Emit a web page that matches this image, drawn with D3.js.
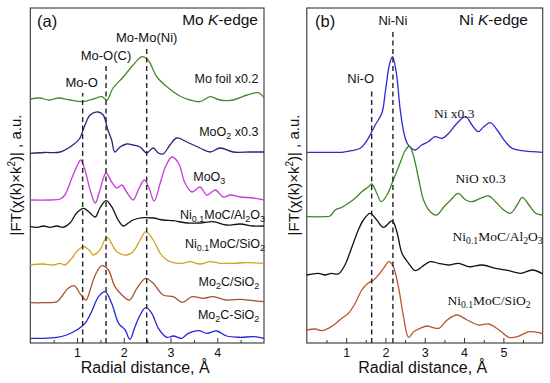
<!DOCTYPE html>
<html><head><meta charset="utf-8">
<script src="https://cdn.jsdelivr.net/npm/d3@7/dist/d3.min.js"></script>
<style>
body{margin:0;background:#fff;}
svg{display:block;font-family:Arial,"Liberation Sans",sans-serif;}
</style></head>
<body><svg id="c" width="550" height="383"></svg>
<script>
// ---------- DATA (x: radial distance Å, y: |FT| a.u. incl. vertical offset) ----------
const moFoil = [[0,244],[0.2,245],[0.4,243],[0.6,245],[0.85,243],[1.12,241.3],[1.35,244],[1.53,246.3],[1.64,243],[1.77,255],[1.99,266],[2.2,278],[2.39,286.3],[2.52,283],[2.71,266],[2.93,256],[3.2,247],[3.42,243],[3.63,241.3],[3.85,246.3],[4.06,243],[4.34,243],[4.64,248],[4.88,250.3],[5,245]];
const moO2 = [[0,189.7],[0.3,190.5],[0.64,191],[0.91,198],[1.05,204],[1.17,218],[1.28,228],[1.45,231],[1.56,228],[1.66,213],[1.74,203],[1.81,191],[1.92,196],[2.06,199],[2.2,198],[2.35,196],[2.49,190],[2.63,195],[2.74,190],[2.84,189],[2.99,198],[3.13,205],[3.35,201],[3.63,195],[3.85,191],[4.06,195],[4.34,191],[4.7,191],[5,191]];
const moO3 = [[0,143],[0.43,143],[0.64,144],[0.74,148],[0.89,165],[0.99,176],[1.08,183],[1.17,173],[1.28,153],[1.39,140],[1.49,153],[1.62,170],[1.74,161],[1.85,155],[1.96,158],[2.06,151],[2.2,143],[2.31,153],[2.44,163],[2.54,155],[2.65,142],[2.78,160],[2.89,176],[3.03,186],[3.17,180],[3.31,160],[3.46,151],[3.63,156],[3.78,148],[3.96,153],[4.13,146],[4.28,148],[4.49,146],[4.77,145],[5,143]];
const niMoCAlMo = [[0,116.3],[0.16,115.7],[0.28,117],[0.42,115.7],[0.57,117],[0.7,115.7],[0.85,120],[0.99,130],[1.14,134.7],[1.28,130],[1.39,126],[1.49,135],[1.62,142.3],[1.74,136.3],[1.88,123],[1.99,117],[2.09,119.7],[2.2,123],[2.41,125.3],[2.63,125],[2.84,123],[3.06,122.3],[3.35,120],[3.63,120],[3.91,121.3],[4.2,118],[4.49,119],[4.77,117],[5,117]];
const niMoCSiMo = [[0,78],[0.27,79],[0.49,78],[0.64,79.7],[0.74,78],[0.89,84.7],[0.99,91.3],[1.14,96.3],[1.28,92],[1.34,88],[1.49,93],[1.64,105.7],[1.85,91.3],[2.06,88],[2.2,91.3],[2.35,103],[2.47,111.3],[2.63,103],[2.78,89.7],[2.92,83],[3.06,80.3],[3.24,79.7],[3.42,81.3],[3.63,79],[3.85,81.3],[4.06,79.7],[4.34,79.7],[4.64,80.3],[5,79.7]];
const mo2cSi = [[0,40.3],[0.28,40.3],[0.57,41.3],[0.67,46.3],[0.81,54.7],[0.94,57.3],[1.06,49.7],[1.19,43],[1.28,53],[1.39,68],[1.53,77.3],[1.67,73],[1.81,56.3],[1.96,48],[2.12,43],[2.28,54.7],[2.47,64.7],[2.63,59.7],[2.84,48],[3.06,46.3],[3.26,40.7],[3.46,46.3],[3.7,44.7],[3.91,46.3],[4.2,43],[4.49,43.7],[4.77,42.3],[5,41.3]];
const mo2cSiB = [[0,4.7],[0.28,4.7],[0.57,5.7],[0.78,8],[0.99,13],[1.17,19.7],[1.31,31.3],[1.46,46.3],[1.6,51.3],[1.74,39.7],[1.89,19.7],[2.03,13],[2.13,3.7],[2.24,16.3],[2.35,28],[2.47,35.3],[2.6,29.7],[2.74,14.7],[2.92,5.7],[3.06,7],[3.24,4.7],[3.38,9.7],[3.6,12.3],[3.78,9.7],[3.99,12],[4.2,7],[4.49,5.7],[4.78,6.3],[5,4.7]];

const niFoil = [[0,190.7],[0.46,190.7],[0.89,190.7],[1.14,192.3],[1.36,194.7],[1.48,199.7],[1.61,208],[1.74,218],[1.91,230],[2.0,252],[2.1,278],[2.18,286.3],[2.27,272],[2.38,232],[2.47,210],[2.55,200],[2.65,195],[2.76,193],[2.92,198],[3.09,201.3],[3.26,206.3],[3.44,204.7],[3.61,209.7],[3.82,219.7],[4.04,226.3],[4.2,218],[4.36,211.3],[4.5,216.3],[4.67,220.3],[4.84,213],[5.05,201.3],[5.22,194.7],[5.48,192.3],[5.74,191.3],[6,190.7]];
const niO = [[0,126.3],[0.46,126.3],[0.59,127],[0.72,133],[0.89,135.7],[1.06,139.7],[1.23,144.7],[1.4,151.3],[1.57,156.3],[1.65,159],[1.78,149.7],[1.89,141.3],[2.04,148],[2.2,163],[2.37,179.7],[2.51,193],[2.61,197],[2.72,186.3],[2.85,163],[2.97,143],[3.14,131.3],[3.3,128],[3.49,136.3],[3.66,143],[3.85,149.7],[4.04,143],[4.2,141.3],[4.42,144.7],[4.63,147],[4.8,141.3],[5.01,133],[5.18,129.7],[5.35,138],[5.48,145.7],[5.65,138],[5.82,129.7],[6,128]];
const niMoCAlNi = [[0,68],[0.29,69.7],[0.46,68],[0.63,69.7],[0.8,69],[0.97,78],[1.09,89.7],[1.31,113],[1.44,123],[1.61,129.7],[1.78,123],[1.95,115.7],[2.17,122],[2.29,111.3],[2.42,89.7],[2.59,79.7],[2.76,72.3],[2.93,76.3],[3.14,81.3],[3.35,79.7],[3.61,78],[3.86,79.7],[4.12,76.3],[4.46,78],[4.8,74.7],[5.14,72.3],[5.44,69.7],[5.74,73],[6,69]];
const niMoCSiNi = [[0,13],[0.21,14],[0.38,12.3],[0.55,14.7],[0.72,19],[0.89,24.7],[1.06,29.7],[1.23,39.7],[1.4,53],[1.57,60.3],[1.7,63],[1.82,68],[1.95,74.7],[2.09,81.3],[2.2,76.3],[2.33,56.3],[2.46,26.3],[2.59,5.7],[2.72,11.3],[2.89,14.7],[3.06,17],[3.19,15.7],[3.36,14.7],[3.57,23],[3.82,28],[4.08,23],[4.37,18],[4.63,19],[4.89,13],[5.14,5.7],[5.4,7],[5.65,11.3],[5.91,10.3],[6,9]];

const ticksA = [1,2,3,4];
const ticksB = [1,2,3,4,5];
const dashA = [1.12,1.62,2.49];
const dashB = [1.65,2.19];
const dashLabelsA = ["Mo-O","Mo-O(C)","Mo-Mo(Ni)"];
const dashLabelsB = ["Ni-O","Ni-Ni"];
const xTitle = "Radial distance, Å";

// ---------- SCALES ----------
const svg = d3.select("#c");
const xA = d3.scaleLinear([0,5],[30.3,264]);
const xB = d3.scaleLinear([0,6],[306.8,542.7]);
const y = d3.scaleLinear([0,335],[343,8]);

function panel(x, ticks, minor){
  const g = svg.append("g");
  const [x0,x1] = x.range();
  const ax = d3.axisBottom(x).tickValues(ticks).tickSizeInner(-5).tickSizeOuter(0).tickPadding(5).tickFormat(d3.format("d"));
  const ag = g.append("g").attr("transform","translate(0,343)").call(ax);
  ag.select(".domain").remove();
  ag.selectAll("line").attr("stroke","#333");
  ag.selectAll("text").attr("font-size",12.5).attr("fill","#111").attr("font-family","Arial, 'Liberation Sans', sans-serif");
  const mg = g.append("g").attr("transform","translate(0,343)").call(d3.axisBottom(x).tickValues(minor).tickSizeInner(-3).tickSizeOuter(0).tickFormat(""));
  mg.select(".domain").remove();
  mg.selectAll("line").attr("stroke","#333");
  g.append("rect").attr("x",x0).attr("y",8).attr("width",x1-x0).attr("height",335)
    .attr("fill","none").attr("stroke","#333").attr("stroke-width",1.1);
  g.append("text").attr("x",(x0+x1)/2-2).attr("y",373).attr("text-anchor","middle")
    .attr("font-size",16).attr("fill","#111").text(xTitle);
  return g;
}
panel(xA, ticksA, [0.5,1.5,2.5,3.5,4.5]);
panel(xB, ticksB, [0.5,1.5,2.5,3.5,4.5,5.5]);

// y labels
function ylab(xpos){
  const t = svg.append("text").attr("transform",`translate(${xpos},175) rotate(-90)`)
    .attr("text-anchor","middle").attr("font-size",15).attr("fill","#111");
  t.append("tspan").text("|FT(χ(k)×k");
  t.append("tspan").attr("font-size",10).attr("dy",-6).text("2");
  t.append("tspan").attr("dy",6).text(")| , a.u.");
}
ylab(21); ylab(299);

// curves
const line = x => d3.line().x(d=>x(d[0])).y(d=>y(d[1])).curve(d3.curveCatmullRom.alpha(0.5));
const seriesA = [[moFoil,"#4a8a2c"],[moO2,"#25257e"],[moO3,"#c43cd8"],[niMoCAlMo,"#111"],[niMoCSiMo,"#d4a21e"],[mo2cSi,"#a5522c"],[mo2cSiB,"#2424dc"]];
const seriesB = [[niFoil,"#2b2bd0"],[niO,"#3f862a"],[niMoCAlNi,"#111"],[niMoCSiNi,"#b8572f"]];
seriesA.forEach(([d,c])=>svg.append("path").attr("d",line(xA)(d)).attr("fill","none").attr("stroke",c).attr("stroke-width",1.3));
seriesB.forEach(([d,c])=>svg.append("path").attr("d",line(xB)(d)).attr("fill","none").attr("stroke",c).attr("stroke-width",1.3));

// dashed lines
const dashTopA = [250,277,295];
const dashTopB = [253,311];
dashA.forEach((v,i)=>svg.append("line").attr("x1",xA(v)).attr("x2",xA(v)).attr("y1",y(0)).attr("y2",y(dashTopA[i]))
  .attr("stroke","#222").attr("stroke-width",1.4).attr("stroke-dasharray","5,3.5"));
dashB.forEach((v,i)=>svg.append("line").attr("x1",xB(v)).attr("x2",xB(v)).attr("y1",y(0)).attr("y2",y(dashTopB[i]))
  .attr("stroke","#222").attr("stroke-width",1.4).attr("stroke-dasharray","5,3.5"));
const dlA = [[1.12,256],[1.62,283],[2.49,301]];
dashLabelsA.forEach((t,i)=>svg.append("text").attr("x",xA(dlA[i][0])-(i==0?1:0)).attr("y",y(dlA[i][1]))
  .attr("text-anchor","middle").attr("font-size",13).attr("fill","#111").text(t));
const dlB = [[1.37,260],[2.19,318]];
dashLabelsB.forEach((t,i)=>svg.append("text").attr("x",xB(dlB[i][0])).attr("y",y(dlB[i][1]))
  .attr("text-anchor","middle").attr("font-size",13).attr("fill","#111").text(t));

// panel titles
svg.append("text").attr("x",37).attr("y",27).attr("font-size",16.5).attr("fill","#111").text("(a)");
svg.append("text").attr("x",315).attr("y",27).attr("font-size",16.5).attr("fill","#111").text("(b)");
function edge(xp, txt){
  const t = svg.append("text").attr("x",xp).attr("y",25).attr("text-anchor","end").attr("font-size",15.5).attr("fill","#111");
  t.append("tspan").text(txt+" ");
  t.append("tspan").attr("font-style","italic").text("K");
  t.append("tspan").text("-edge");
}
edge(258,"Mo"); edge(528,"Ni");

// series labels with subscripts: parts [text, isSub]
function label(xp, yp, parts, anchor, font, fs){
  const t = svg.append("text").attr("x",xp).attr("y",yp).attr("text-anchor",anchor)
    .attr("font-size",fs).attr("fill","#111");
  if(font) t.attr("font-family",font);
  let prevSub = false;
  parts.forEach(([s,sub])=>{
    const ts = t.append("tspan").text(s);
    if(sub) ts.attr("font-size",fs*0.72);
    ts.attr("dy", sub ? (prevSub?0:3) : (prevSub?-3:0));
    prevSub = !!sub;
  });
}
const sans = null, serif = "'Liberation Serif','Times New Roman',serif";
label(xA(4.88), y(260), [["Mo foil x0.2",0]], "end", sans, 12.5);
label(xA(4.88), y(207), [["MoO",0],["2",1],[" x0.3",0]], "end", sans, 12.5);
label(xA(3.83), y(162), [["MoO",0],["3",1]], "middle", sans, 12.5);
label(xA(5.0)+1, y(124), [["Ni",0],["0.1",1],["MoC/Al",0],["2",1],["O",0],["3",1]], "end", sans, 12.5);
label(xA(5.0)+1, y(95), [["Ni",0],["0.1",1],["MoC/SiO",0],["2",1]], "end", sans, 12.5);
label(xA(4.9), y(57), [["Mo",0],["2",1],["C/SiO",0],["2",1]], "end", sans, 12.5);
label(xA(4.9), y(24), [["Mo",0],["2",1],["C-SiO",0],["2",1]], "end", sans, 12.5);

label(xB(3.75), y(225), [["Ni x0.3",0]], "middle", serif, 13.5);
label(xB(4.42), y(160), [["NiO x0.3",0]], "middle", serif, 13.5);
label(xB(6.0), y(102), [["Ni",0],["0.1",1],["MoC/Al",0],["2",1],["O",0],["3",1]], "end", serif, 13.5);
label(xB(5.69), y(38), [["Ni",0],["0.1",1],["MoC/SiO",0],["2",1]], "end", serif, 13.5);
</script></body></html>
